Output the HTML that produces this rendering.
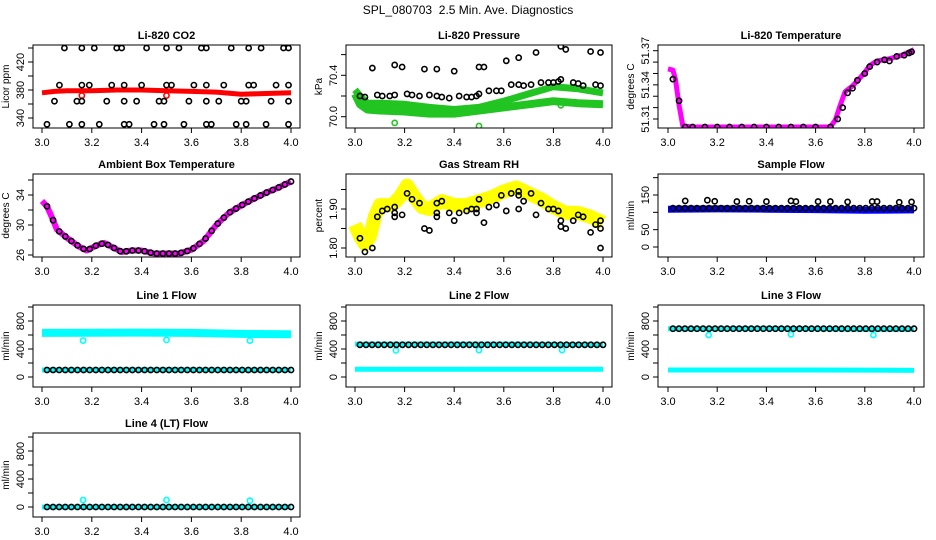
<!DOCTYPE html>
<html><head><meta charset="utf-8">
<style>
html,body{margin:0;padding:0;background:#fff;}
svg{display:block;font-family:"Liberation Sans",Arial,sans-serif;}
</style></head>
<body>
<svg id="chart" width="936" height="540" viewBox="0 0 936 540">
<text x="468" y="14" text-anchor="middle" font-size="12">SPL_080703&#160; 2.5 Min. Ave. Diagnostics</text>
</svg>
<script>
// ---------- data ----------
const xTicks = [3.0, 3.2, 3.4, 3.6, 3.8, 4.0];
const xTickLabels = ["3.0", "3.2", "3.4", "3.6", "3.8", "4.0"];

const co2RedX = [3.0, 3.05, 3.1, 3.2, 3.3, 3.4, 3.5, 3.6, 3.7, 3.8, 3.9, 4.0];
const co2RedY = [376, 378, 379, 379, 380, 380, 379, 378, 377, 374, 375, 376];
const co2BlackX = [3.09,3.16,3.21,3.30,3.32,3.42,3.50,3.55,3.64,3.66,3.76,3.83,3.88,3.97,3.99,
  3.07,3.16,3.19,3.28,3.33,3.40,3.50,3.52,3.61,3.66,3.73,3.83,3.85,3.94,3.99,
  3.05,3.14,3.16,3.26,3.33,3.38,3.47,3.49,3.59,3.66,3.71,3.80,3.82,3.92,3.99,
  3.02,3.11,3.16,3.23,3.33,3.35,3.45,3.49,3.57,3.66,3.68,3.78,3.82,3.90,3.99];
const co2BlackY = [440,440,440,440,440,440,440,440,440,440,440,440,440,440,440,
  387,387,387,387,387,387,387,387,387,387,387,387,387,387,387,
  364,364,364,364,364,364,364,364,364,364,364,364,364,364,364,
  331,331,331,331,331,331,331,331,331,331,331,331,331,331,331];

const presGreenX = [3.0, 3.02, 3.05, 3.1, 3.2, 3.3, 3.4, 3.5, 3.6, 3.7, 3.8, 3.9, 4.0];
const presGreenHi = [70.26, 70.2, 70.13, 70.13, 70.12, 70.09, 70.07, 70.09, 70.15, 70.22, 70.29, 70.27, 70.23];
const presGreenLo = [70.22, 70.12, 70.07, 70.06, 70.05, 70.03, 70.03, 70.06, 70.09, 70.12, 70.15, 70.13, 70.12];
const presOutX = [3.16, 3.50, 3.83];
const presOutY = [69.94, 69.91, 70.11];
const presBlackX = [3.02,3.04,3.07,3.09,3.11,3.14,3.16,3.16,3.19,3.21,3.23,3.26,3.28,3.30,3.33,3.33,3.35,3.38,3.40,3.42,3.45,3.47,3.49,3.50,3.50,3.52,3.54,3.57,3.59,3.61,3.63,3.66,3.66,3.68,3.71,3.73,3.75,3.78,3.80,3.82,3.83,3.83,3.85,3.88,3.90,3.92,3.95,3.97,3.99,3.99];
const presBlackY = [70.2,70.19,70.47,70.21,70.2,70.2,70.21,70.5,70.48,70.22,70.21,70.2,70.46,70.21,70.2,70.46,70.19,70.18,70.44,70.2,70.19,70.19,70.2,70.22,70.48,70.48,70.25,70.25,70.25,70.54,70.31,70.31,70.57,70.3,70.31,70.62,70.33,70.33,70.33,70.34,70.36,70.68,70.65,70.33,70.32,70.3,70.63,70.31,70.3,70.62];

const tempX = [3.0,3.02,3.03,3.045,3.06,3.1,3.3,3.5,3.66,3.68,3.7,3.72,3.75,3.78,3.8,3.82,3.85,3.9,3.95,4.0];
const tempY = [51.354,51.353,51.345,51.322,51.304,51.303,51.303,51.303,51.303,51.309,51.322,51.334,51.339,51.346,51.351,51.357,51.361,51.363,51.366,51.371];
const tempBlackX = [3.02,3.045,3.07,3.1,3.15,3.2,3.25,3.3,3.35,3.4,3.45,3.5,3.55,3.6,3.66,3.69,3.71,3.73,3.75,3.77,3.8,3.82,3.85,3.88,3.9,3.93,3.96,3.98,3.99];
const tempBlackY = [51.345,51.326,51.303,51.303,51.303,51.303,51.303,51.303,51.303,51.303,51.303,51.303,51.303,51.303,51.303,51.31,51.32,51.333,51.337,51.344,51.35,51.356,51.36,51.362,51.361,51.365,51.366,51.368,51.369];

const ambX = [3.0,3.02,3.04,3.06,3.1,3.15,3.18,3.22,3.25,3.28,3.32,3.36,3.4,3.45,3.55,3.6,3.65,3.7,3.75,3.8,3.85,3.9,3.95,4.0];
const ambY = [33.2,32.5,31.0,29.4,28.3,27.1,26.6,27.3,27.6,27.1,26.4,26.6,26.6,26.2,26.2,26.7,27.9,30.0,31.6,32.6,33.5,34.3,35.0,35.8];

const rhX = [3.0,3.02,3.04,3.06,3.08,3.1,3.15,3.18,3.21,3.24,3.27,3.3,3.35,3.4,3.45,3.5,3.55,3.6,3.65,3.7,3.75,3.8,3.85,3.9,3.95,4.0];
const rhY = [1.86,1.83,1.81,1.83,1.88,1.91,1.91,1.93,1.96,1.93,1.905,1.9,1.92,1.91,1.91,1.92,1.93,1.945,1.955,1.94,1.925,1.905,1.89,1.89,1.88,1.865];
const rhBlackX = [3.02,3.04,3.07,3.09,3.11,3.13,3.16,3.16,3.16,3.19,3.21,3.23,3.26,3.28,3.30,3.33,3.33,3.33,3.35,3.38,3.40,3.42,3.45,3.47,3.49,3.49,3.50,3.52,3.54,3.57,3.59,3.61,3.63,3.66,3.66,3.66,3.68,3.71,3.73,3.75,3.78,3.80,3.82,3.83,3.83,3.85,3.88,3.90,3.92,3.95,3.97,3.99,3.99,3.99];
const rhBlackY = [1.825,1.79,1.80,1.88,1.895,1.90,1.89,1.88,1.905,1.885,1.94,1.925,1.915,1.85,1.845,1.915,1.89,1.88,1.92,1.89,1.87,1.89,1.895,1.90,1.90,1.89,1.925,1.865,1.905,1.91,1.935,1.895,1.94,1.935,1.9,1.945,1.92,1.94,1.885,1.915,1.9,1.9,1.895,1.87,1.855,1.85,1.87,1.885,1.88,1.84,1.86,1.80,1.85,1.87];

const flowBlueX = [3.0, 3.2, 3.4, 3.6, 3.8, 4.0];
const flowBlueY = [109, 110, 109, 108, 106, 107];
const flowBlackHiX = [3.07,3.16,3.19,3.28,3.33,3.40,3.50,3.52,3.61,3.66,3.73,3.83,3.85,3.94,3.99];
const flowBlackHiY = [133,135,132,131,132,131,133,131,131,131,130,131,131,129,130];

const l1HiY = [630, 632, 635, 630, 615, 610];
const l1LoY = [100, 102, 104, 103, 100, 100];
const l2HiY = [470, 470, 470, 470, 465, 460];
const l2LoY = [110, 110, 110, 110, 110, 110];
const l3HiY = [690, 690, 695, 690, 680, 680];
const l3LoY = [100, 100, 100, 100, 98, 95];
const l4HiY = [0, 0, 0, 0, 0, 0];
const outlierX = [3.165, 3.50, 3.835];
const l1OutY = [520, 530, 520];
const l2OutY = [380, 385, 385];
const l3OutY = [600, 610, 600];
const l4OutY = [100, 100, 90];

// ---------- drawing ----------
const NS = "http://www.w3.org/2000/svg";
const svg = document.getElementById("chart");
function mk(tag, attrs, parent) {
  const e = document.createElementNS(NS, tag);
  for (const k in attrs) e.setAttribute(k, attrs[k]);
  (parent || svg).appendChild(e);
  return e;
}
function linMap(v1, p1, v2, p2) { return v => p1 + (v - v1) * (p2 - p1) / (v2 - v1); }

function panel(cfg) {
  const g = mk("g", {});
  
  
  const [x0, y0, x1, y1] = cfg.box;
  const sx = linMap(3.0, cfg.x3, 4.0, cfg.x4);
  const sy = linMap(cfg.yv1, cfg.yp1, cfg.yv2, cfg.yp2);
  const t = mk("text", {x: (x0 + x1) / 2, y: y0 - 6, "text-anchor": "middle", "font-size": 11, "font-weight": "bold"}, g);
  t.textContent = cfg.title;
  
  
  const clip = mk("clipPath", {id: "c" + cfg.name}, g);
  mk("rect", {x: x0, y: y0, width: x1 - x0, height: y1 - y0}, clip);
  const plot = mk("g", {"clip-path": "url(#c" + cfg.name + ")"}, g);
  
  
  cfg.draw(plot, sx, sy);
  const box = mk("rect", {x: x0, y: y0, width: x1 - x0, height: y1 - y0, fill: "none", stroke: "#000", "stroke-width": 1}, g);
  
  
  xTicks.forEach((v, i) => {
    const px = sx(v);
    mk("line", {x1: px, y1: y1, x2: px, y2: y1 + 5, stroke: "#000"}, g);
    const tl = mk("text", {x: px, y: y1 + 18, "text-anchor": "middle", "font-size": 11}, g);
    tl.textContent = xTickLabels[i];
    
    
  });
  cfg.yTicks.forEach(v => {
    const py = sy(v);
    mk("line", {x1: x0 - 5, y1: py, x2: x0, y2: py, stroke: "#000"}, g);
  });
  cfg.yLabels.forEach((lab, i) => {
    const py = sy(cfg.yLabelVals[i]);
    const tl = mk("text", {x: x0 - 9, y: py, "text-anchor": "middle", "font-size": 11, transform: `rotate(-90 ${x0 - 9} ${py})`}, g);
    tl.textContent = lab;
    
    
  });
  const cy = (y0 + y1) / 2;
  const yl = mk("text", {x: x0 - 24, y: cy, "text-anchor": "middle", "font-size": 10, transform: `rotate(-90 ${x0 - 24} ${cy})`}, g);
  yl.textContent = cfg.ylab;
  
  
}

function band(g, xs, ys, sx, sy, color, width, name) {
  const d = xs.map((x, i) => (i ? "L" : "M") + sx(x).toFixed(1) + "," + sy(ys[i]).toFixed(1)).join("");
  const p = mk("path", {d: d, fill: "none", stroke: color, "stroke-width": width, "stroke-linejoin": "round", "stroke-linecap": "butt"}, g);
  
  
}
function pts(g, xs, ys, sx, sy, color, name, r) {
  xs.forEach((x, i) => {
    const c = mk("circle", {cx: sx(x), cy: sy(ys[i]), r: r || 2.6, fill: "none", stroke: color, "stroke-width": 1.6}, g);
    
    
  });
}
function tickPts(g, sx, sy, y, color, name) {
  const xs = [], ys = [];
  for (let i = 0; i <= 40; i++) { xs.push(3.02 + i * 0.0245); ys.push(y); }
  pts(g, xs, ys, sx, sy, color, name);
}
function seriesAt(xs, ys, x) {
  for (let i = 1; i < xs.length; i++) if (x <= xs[i]) { const f = (x - xs[i-1]) / (xs[i] - xs[i-1]); return ys[i-1] + f * (ys[i] - ys[i-1]); }
  return ys[ys.length - 1];
}

const C1 = {x0: 33, x1: 300, x3: 42, x4: 291};
const C2 = {x0: 346, x1: 612, x3: 355, x4: 603};
const C3 = {x0: 658, x1: 924, x3: 668, x4: 914};
const R = [[45, 128], [174, 257], [305, 387], [433, 517]];

panel({name: "co2-panel", title: "Li-820 CO2", ylab: "Licor ppm", box: [C1.x0, R[0][0], C1.x1, R[0][1]], x3: C1.x3, x4: C1.x4,
  yv1: 340, yp1: 118, yv2: 420, yp2: 62, yTicks: [340,360,380,400,420,440], yLabels: ["340","380","420"], yLabelVals: [340,380,420],
  draw: (g, sx, sy) => { band(g, co2RedX, co2RedY, sx, sy, "#f00", 5, "co2-series"); pts(g, [3.16,3.50], [372,372], sx, sy, "#f00", "co2-outlier"); pts(g, co2BlackX, co2BlackY, sx, sy, "#000", "co2-point"); }});

panel({name: "pressure-panel", title: "Li-820 Pressure", ylab: "kPa", box: [C2.x0, R[0][0], C2.x1, R[0][1]], x3: C2.x3, x4: C2.x4,
  yv1: 70.0, yp1: 116.7, yv2: 70.4, yp2: 75.3, yTicks: [70.0,70.2,70.4,70.6], yLabels: ["70.0","70.4"], yLabelVals: [70.0,70.4],
  draw: (g, sx, sy) => { band(g, presGreenX, presGreenLo, sx, sy, "#22c422", 8, "pressure-series-low"); band(g, presGreenX, presGreenHi, sx, sy, "#22c422", 7, "pressure-series-high");
    pts(g, presOutX, presOutY, sx, sy, "#22c422", "pressure-outlier"); pts(g, presBlackX, presBlackY, sx, sy, "#000", "pressure-point"); }});

panel({name: "temperature-panel", title: "Li-820 Temperature", ylab: "degrees C", box: [C3.x0, R[0][0], C3.x1, R[0][1]], x3: C3.x3, x4: C3.x4,
  yv1: 51.31, yp1: 119, yv2: 51.37, yp2: 50.7, yTicks: [51.31,51.32,51.33,51.34,51.35,51.36,51.37], yLabels: ["51.31","51.34","51.37"], yLabelVals: [51.31,51.34,51.37],
  draw: (g, sx, sy) => { band(g, tempX, tempY, sx, sy, "#f0f", 5, "temperature-series"); pts(g, tempBlackX, tempBlackY, sx, sy, "#000", "temperature-point"); }});

panel({name: "ambient-panel", title: "Ambient Box Temperature", ylab: "degrees C", box: [C1.x0, R[1][0], C1.x1, R[1][1]], x3: C1.x3, x4: C1.x4,
  yv1: 26, yp1: 255, yv2: 34, yp2: 195, yTicks: [26,28,30,32,34,36], yLabels: ["26","30","34"], yLabelVals: [26,30,34],
  draw: (g, sx, sy) => { band(g, ambX, ambY, sx, sy, "#f0f", 6, "ambient-series");
    const bx = [], by = []; for (let i = 0; i <= 40; i++) { const x = 3.02 + i * 0.0245; bx.push(x); by.push(seriesAt(ambX, ambY, x)); }
    pts(g, bx, by, sx, sy, "#000", "ambient-point"); }});

panel({name: "rh-panel", title: "Gas Stream RH", ylab: "percent", box: [C2.x0, R[1][0], C2.x1, R[1][1]], x3: C2.x3, x4: C2.x4,
  yv1: 1.80, yp1: 248, yv2: 1.90, yp2: 209, yTicks: [1.80,1.85,1.90,1.95], yLabels: ["1.80","1.90"], yLabelVals: [1.80,1.90],
  draw: (g, sx, sy) => { band(g, rhX, rhY, sx, sy, "#ff0", 14, "rh-series"); pts(g, rhBlackX, rhBlackY, sx, sy, "#000", "rh-point"); }});

panel({name: "sample-flow-panel", title: "Sample Flow", ylab: "ml/min", box: [C3.x0, R[1][0], C3.x1, R[1][1]], x3: C3.x3, x4: C3.x4,
  yv1: 0, yp1: 247, yv2: 150, yp2: 195, yTicks: [0,50,100,150,200], yLabels: ["0","50","150"], yLabelVals: [0,50,150],
  draw: (g, sx, sy) => { band(g, flowBlueX, flowBlueY, sx, sy, "#00f", 7, "sample-flow-series"); pts(g, flowBlackHiX, flowBlackHiY, sx, sy, "#000", "sample-flow-point"); tickPts(g, sx, sy, 112, "#000", "sample-flow-point"); }});

function flowPanel(name, title, col, row, hi, lo, out, blackY, hiW) {
  panel({name: name, title: title, ylab: "ml/min", box: [col.x0, R[row][0], col.x1, R[row][1]], x3: col.x3, x4: col.x4,
    yv1: 0, yp1: R[row][1] - 10, yv2: 800, yp2: R[row][1] - 66, yTicks: [0,200,400,600,800,1000], yLabels: ["0","400","800"], yLabelVals: [0,400,800],
    draw: (g, sx, sy) => {
      band(g, flowBlueX, hi, sx, sy, "#0ff", hiW, name + "-series-high");
      if (lo) band(g, flowBlueX, lo, sx, sy, "#0ff", 5, name + "-series-low");
      pts(g, outlierX, out, sx, sy, "#0ff", name + "-outlier");
      tickPts(g, sx, sy, blackY, "#000", name + "-point");
    }});
}
flowPanel("line1-flow-panel", "Line 1 Flow", C1, 2, l1HiY, l1LoY, l1OutY, 100, 8);
flowPanel("line2-flow-panel", "Line 2 Flow", C2, 2, l2HiY, l2LoY, l2OutY, 460, 5);
flowPanel("line3-flow-panel", "Line 3 Flow", C3, 2, l3HiY, l3LoY, l3OutY, 690, 5);
flowPanel("line4-flow-panel", "Line 4 (LT) Flow", C1, 3, l4HiY, null, l4OutY, 0, 5);
</script>
</body></html>
